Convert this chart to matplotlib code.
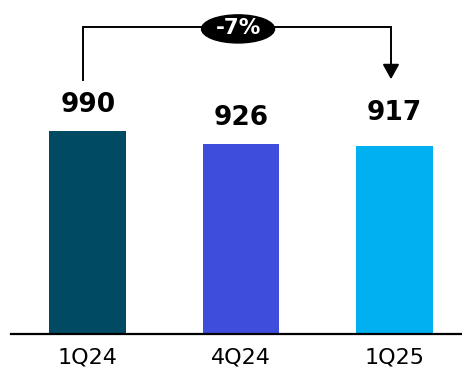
import matplotlib.pyplot as plt
from matplotlib.patches import Ellipse

quarters = ["1Q24", "4Q24", "1Q25"]
values = [990, 926, 917]
bar_colors = ["#004A63", "#3F4DDC", "#00B0F0"]
change_label = "-7%"

W, H = 462, 368
fig = plt.figure(figsize=(W / 100, H / 100), dpi=100)
ax = fig.add_axes([11 / W, 34 / H, (W - 11) / W, 334 / H])

x = range(len(quarters))
ax.bar(x, values, width=0.5, color=bar_colors, zorder=2)
ax.set_xlim(-0.5, 2.44)
ax.set_ylim(0, 1629)

# value labels over each bar (the last one is lifted a bit to clear the arrow)
offsets = [19, 19, 24]
for xi, v, off in zip(x, values, offsets):
    ax.annotate(f"{v}", (xi, v), xytext=(0, off), textcoords="offset points",
                ha="center", va="center", fontsize=19, fontweight="heavy", color="black")

# bracket from first to last quarter with the change badge
top = 1498
x0, x1 = -0.03, 1.977
ax.plot([x0, x0, x1, x1], [1239, top, top, 1300], color="black", lw=1.4,
        solid_joinstyle="miter", clip_on=False, zorder=3)
ax.annotate("", xy=(x1, 1229), xytext=(x1, 1305),
            arrowprops=dict(arrowstyle="-|>,head_length=0.9,head_width=0.5",
                            color="black", lw=1.4), zorder=3)
ax.add_patch(Ellipse((0.98, 1488), 0.476, 137, color="black", zorder=4, clip_on=False))
ax.text(0.98, 1490, change_label, ha="center", va="center", color="white",
        fontsize=15.5, fontweight="heavy", zorder=5)

ax.set_xticks(list(x))
ax.set_xticklabels(quarters, fontsize=16)
ax.tick_params(axis="x", length=0, pad=10)
ax.set_yticks([])
for side in ["top", "right", "left"]:
    ax.spines[side].set_visible(False)
ax.spines["bottom"].set_linewidth(1.6)
ax.spines["bottom"].set_zorder(3)

fig.savefig("out.png", dpi=100)
